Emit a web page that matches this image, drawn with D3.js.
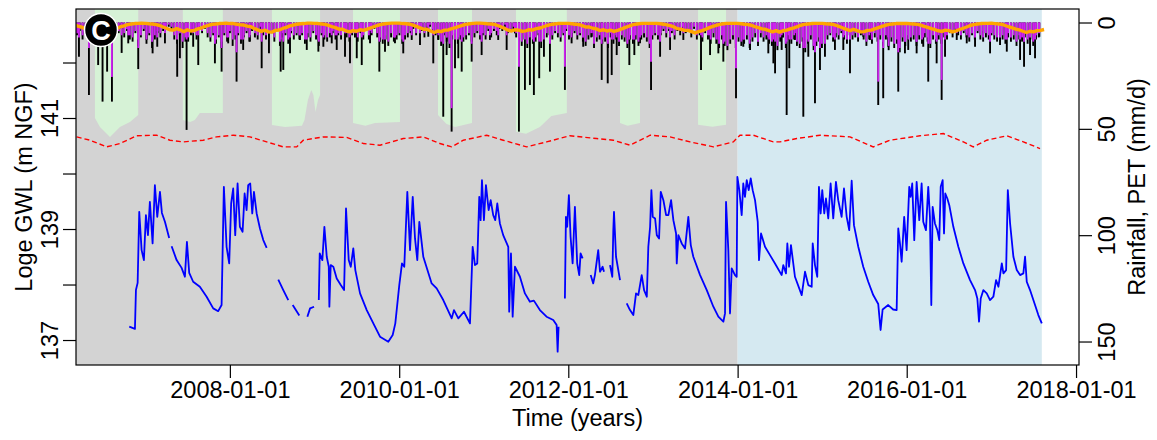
<!DOCTYPE html>
<html>
<head>
<meta charset="utf-8">
<script src="https://cdn.jsdelivr.net/npm/d3@7"></script>
<style>
  body { margin: 0; background: #fff; }
  svg { display: block; }
  text { font-family: "Liberation Sans", Arial, sans-serif; fill: #000; }
</style>
</head>
<body>
<svg id="chart" width="1157" height="440"></svg>
<script>
// ---- Data (time in decimal years) ----

// Groundwater level, m NGF (null = gap in record)
const gwlYr = [2006.810,2006.877,2006.889,2006.909,2006.928,2006.956,2006.983,2007.007,2007.031,2007.054,2007.086,2007.113,2007.141,2007.173,2007.196,2007.232,2007.282,2007.296,
  2007.311,2007.370,2007.429,2007.468,2007.492,2007.519,2007.566,2007.645,2007.725,2007.803,2007.862,2007.902,2007.929,2007.961,2007.992,2008.015,2008.039,2008.063,2008.091,2008.118,2008.150,2008.174,2008.197,2008.216,2008.240,2008.264,2008.284,2008.316,2008.355,2008.394,2008.434,2008.500,
  2008.571,2008.630,2008.689,2008.715,
  2008.741,2008.819,2008.860,
  2008.914,2008.946,2008.993,2009.020,
  2009.049,2009.060,2009.091,2009.115,2009.143,2009.167,2009.174,2009.190,2009.221,2009.261,2009.309,2009.348,2009.371,2009.403,2009.427,2009.457,2009.481,2009.537,2009.616,2009.694,2009.773,2009.871,2009.923,2009.954,2010.001,2010.033,2010.060,2010.096,2010.128,2010.160,2010.187,2010.214,2010.238,2010.285,2010.384,2010.443,2010.521,2010.621,2010.648,2010.699,2010.766,2010.837,2010.869,2010.896,2010.923,2010.947,2010.963,2010.979,2011.002,2011.026,2011.058,2011.082,2011.112,2011.136,2011.160,2011.191,2011.230,2011.290,2011.301,2011.322,2011.342,2011.369,2011.428,2011.487,2011.546,2011.593,2011.664,2011.743,2011.822,2011.862,2011.874,2011.885,2011.920,
  2011.960,2011.972,2011.987,2012.007,2012.027,2012.051,2012.078,2012.105,2012.129,2012.145,2012.169,2012.215,
  2012.264,2012.294,2012.314,2012.353,2012.374,2012.405,2012.421,2012.455,
  2012.492,2012.519,2012.531,2012.539,2012.563,2012.610,2012.650,
  2012.689,2012.728,2012.767,2012.799,2012.826,2012.866,2012.894,2012.926,2012.944,2012.965,2012.980,2012.996,2013.024,2013.044,2013.071,2013.091,2013.122,2013.154,2013.181,2013.213,2013.240,2013.272,2013.280,2013.299,2013.339,2013.378,2013.417,2013.446,2013.476,2013.556,2013.635,2013.713,2013.772,2013.831,2013.851,2013.863,2013.890,2013.910,2013.930,2013.969,2013.989,2013.997,2014.020,2014.048,2014.067,2014.087,2014.108,2014.131,2014.155,2014.178,2014.206,2014.238,2014.253,2014.277,2014.324,2014.383,2014.442,2014.521,2014.540,2014.572,2014.588,2014.608,2014.631,2014.678,2014.758,2014.797,2014.836,2014.876,2014.888,2014.915,2014.942,2014.962,2014.982,2015.001,2015.025,2015.045,2015.072,2015.100,2015.131,2015.163,2015.190,2015.230,2015.258,2015.290,2015.320,2015.349,2015.376,2015.427,2015.486,2015.545,2015.604,2015.663,2015.691,2015.715,2015.781,2015.840,2015.881,2015.900,2015.920,2015.940,2015.970,2015.999,2016.030,2016.046,2016.065,2016.089,2016.117,2016.148,2016.176,2016.195,2016.227,2016.254,2016.274,2016.290,2016.306,2016.333,2016.361,2016.384,2016.401,2016.424,2016.440,2016.455,2016.479,2016.502,2016.550,2016.609,2016.668,2016.747,2016.806,2016.833,2016.853,2016.873,2016.904,2016.944,2016.983,2017.022,2017.054,2017.082,2017.122,2017.141,2017.173,2017.193,2017.220,2017.259,2017.299,2017.338,2017.377,2017.397,2017.417,2017.456,2017.515,2017.554,2017.595];
const gwlM = [137.24,137.20,137.90,138.03,139.31,138.62,138.44,139.25,138.89,139.49,138.74,139.79,139.22,139.67,139.29,139.13,138.84,null,
  138.69,138.44,138.30,138.14,138.77,138.21,138.05,137.96,137.78,137.57,137.52,137.63,139.76,138.68,138.38,139.46,139.73,138.89,139.82,139.04,138.95,139.64,139.34,139.79,139.82,139.28,139.67,139.28,139.01,138.80,138.66,null,
  138.09,137.90,137.72,null,
  137.63,137.44,null,
  137.42,137.57,137.60,null,
  137.72,138.56,138.44,139.04,138.50,138.32,137.60,138.35,138.32,138.11,137.99,137.90,139.37,138.44,138.32,138.65,138.26,137.84,137.54,137.30,137.06,136.97,137.09,137.30,137.99,138.38,138.32,139.67,138.62,139.58,138.83,138.44,139.13,138.50,138.02,137.93,137.72,137.39,137.54,137.39,137.51,137.30,138.68,138.35,138.38,139.58,139.16,139.88,139.16,139.79,139.34,139.52,139.25,139.16,139.46,139.10,138.89,138.68,137.51,138.56,137.42,138.32,138.14,137.84,137.69,137.71,137.54,137.42,137.36,137.27,136.79,137.24,null,
  137.75,139.22,139.04,139.61,138.86,138.38,139.40,138.38,138.17,138.56,138.47,null,
  138.17,138.02,138.17,138.62,138.23,138.32,138.23,null,
  138.35,138.14,138.98,139.31,138.50,138.08,null,
  137.66,137.54,137.45,137.84,137.81,138.17,137.90,137.78,138.68,139.04,139.70,139.22,139.19,138.89,138.83,139.67,139.52,139.25,139.25,139.52,139.16,138.92,138.38,138.89,138.74,138.65,139.22,138.71,138.50,138.17,137.90,137.60,137.42,137.33,137.48,139.49,138.62,137.48,138.29,138.17,138.14,139.94,139.70,139.25,139.82,139.58,139.88,139.70,139.91,139.70,139.52,139.13,138.44,138.92,138.68,138.53,138.38,138.17,138.35,138.20,138.74,138.32,138.71,138.14,137.81,138.23,137.99,137.96,138.74,138.35,138.14,139.76,139.28,139.70,139.28,139.55,139.19,139.82,139.19,139.85,139.52,139.22,139.73,139.22,138.98,139.87,139.07,138.68,138.32,138.05,137.81,137.65,137.18,137.55,137.63,137.55,137.54,139.01,138.74,138.41,139.22,138.62,139.76,139.58,139.82,138.80,139.85,139.16,139.82,139.13,138.98,139.76,139.22,137.63,139.40,139.10,138.98,138.80,139.76,139.88,138.92,139.64,139.55,139.43,139.04,138.68,138.38,138.08,137.90,137.75,137.33,137.75,137.90,137.84,137.72,137.78,138.08,137.96,138.38,138.20,138.26,139.70,139.10,138.50,138.26,138.17,138.20,138.50,138.05,137.90,137.63,137.45,137.30];

// Largest daily rainfall events (black) with effective rainfall (magenta), mm/d
const rainYr = [2006.215,2006.333,2006.442,2006.494,2006.548,2006.605,2006.720,2006.798,2006.916,2007.015,2007.086,2007.141,2007.232,2007.377,2007.409,2007.488,2007.566,2007.626,2007.823,2007.902,2007.980,2008.079,2008.157,2008.236,2008.375,2008.461,2008.599,2008.630,2008.709,2008.827,2008.907,2009.044,2009.103,2009.202,2009.261,2009.359,2009.418,2009.498,2009.557,2009.655,2009.765,2009.832,2009.950,2010.048,2010.148,2010.246,2010.344,2010.403,2010.462,2010.521,2010.561,2010.620,2010.660,2010.699,2010.739,2010.857,2010.975,2011.073,2011.171,2011.271,2011.369,2011.416,2011.487,2011.546,2011.593,2011.656,2011.712,2011.783,2011.960,2012.039,2012.176,2012.294,2012.394,2012.465,2012.512,2012.571,2012.720,2012.779,2012.846,2012.976,2013.083,2013.201,2013.358,2013.567,2013.674,2013.772,2013.831,2013.981,2014.067,2014.147,2014.363,2014.423,2014.443,2014.521,2014.580,2014.611,2014.678,2014.777,2014.836,2014.915,2014.974,2015.033,2015.151,2015.250,2015.329,2015.486,2015.565,2015.663,2015.722,2015.781,2015.900,2015.979,2016.018,2016.117,2016.195,2016.254,2016.353,2016.412,2016.452,2016.590,2016.708,2016.806,2016.904,2016.983,2017.101,2017.181,2017.338,2017.385,2017.456,2017.515,2017.566];
const rainMm = [16.1,34.1,20.0,37.2,23.1,37.2,14.3,9.8,21.9,8.2,14.5,11.4,9.8,25.5,16.8,50.5,11.4,20.0,19.2,23.1,9.8,27.8,12.9,9.0,21.5,14.5,23.1,22.3,14.5,8.2,12.9,13.7,11.4,9.8,12.9,16.1,19.2,16.8,20.0,9.8,23.1,13.7,9.8,14.5,8.2,10.6,6.7,19.2,8.2,44.3,15.3,51.3,21.5,16.8,23.1,18.4,15.3,8.2,8.2,12.9,5.1,51.3,31.7,29.4,34.1,26.2,16.1,23.1,31.7,9.8,11.4,6.7,27.0,28.6,24.7,15.3,20.0,15.3,9.8,31.7,16.1,12.9,8.2,22.3,15.3,14.5,18.4,35.6,11.4,12.9,14.5,19.2,23.9,12.9,43.5,21.5,8.2,44.3,16.1,38.0,22.3,16.1,12.9,12.9,23.9,6.7,8.2,38.8,35.6,11.4,32.5,14.5,12.9,14.5,11.4,27.8,19.2,36.4,16.1,8.2,9.8,11.4,5.1,14.5,10.6,13.7,17.6,20.8,15.3,16.8,6.7];
const effMm = [7,12,8,10,9,25.6,6,6,12,6,8,7,5,6,5,8,5,6,10,12,7,14,8,6,9,5,8,9,7,6,8,8,7,6,6,5,6,5,7,4,9,8,7,9,6,5,4,6,4,10,7,40.3,8,7,9,10,9,6,6,6,4,20.8,8,7,9,9,8,10,20.8,7,7,5,10,9,8,7,8,8,7,18.4,9,7,5,6,6,8,10,21.5,8,8,7,8,9,6,9,8,5,12,9,14,12,10,8,7,8,4,5,27.8,12,7,14,9,8,9,7,10,9,27.0,8,5,6,7,4,9,7,8,8,9,7,8,5];

// Typical rainfall in each 12-day window from 12 March 2006 (black) and its effective part (magenta), mm/d
const bandStart = [2006, 2, 12];
const bandStepDays = 12;
const bandMm = [
  6,4,8,5,3,7,9,4,6,5,  4,2,6,3,1,5,3,7,4,8,  9,5,11,7,4,10,6,12,8,5,  7,4,2,2,3,8,10,6,12,9,
  9,6,4,8,3,5,3,7,9,6,  10,7,12,6,9,5,11,8,6,10,  7,5,9,4,7,8,3,6,8,5,  5,9,4,11,7,6,10,5,8,6,
  8,6,10,7,9,5,8,11,6,8,  9,7,5,8,6,8,4,7,9,6,  7,9,5,8,4,8,6,3,7,9,  10,8,11,7,9,8,6,10,8,7,
  5,3,6,3,4,7,3,2,4,6,  8,11,6,9,12,8,7,10,8,9,  8,6,9,7,5,8,6,8,4,7,  4,6,3,4,2,5,4,3,7,9,
  11,8,12,7,10,9,6,12,8,7,  6,8,5,7,9,6,4,8,7,5,  8,6,9,11,8,7,12,9,8,10,  9,12,7,10,8,11,8,9,12,8,
  10,8,11,8,7,9,12,8,6,8,  6,4,7,4,5,8,4,6,3,5,  4,7,3,8,6,9,5,8,10,7,  10,12,8,11,13,10,8,12,9,11,
  10,8,12,9,7,11,7,9,8,10,  11,8,13,9,7,12,8,10,8,11,  12,9,14,10,8,13,11,9,12,10,  8,6,9,7,8,5,8,10,6,8,
  7,9,6,8,11,8,10,7,9,8,  11,8,13,9,12,10,14,9,11,8,  9,8,11,8,10,7,9,12,8,10,  8,10,7,8,5,7,4,6,8,5,
  7,9,6,8,5,8,9,7,8,6,  8,9,6,8,10,7,9,8,11,8,  9,7,10,8,11,8,7];
const bandEffMm = [
  5,3,6,4,2,5,6,3,5,4,  3,1,5,2,1,4,2,5,3,6,  7,4,8,6,3,8,5,9,6,4,  5,3,2,1,2,6,8,5,9,7,
  7,4,3,6,2,4,2,5,7,5,  8,6,9,5,7,4,8,6,5,8,  6,4,7,3,5,6,2,4,6,4,  4,7,3,9,5,5,8,4,6,5,
  6,5,8,5,7,4,6,9,5,6,  7,5,4,6,5,6,3,5,7,5,  5,7,4,6,3,6,5,2,5,7,  8,6,9,5,7,6,5,8,6,5,
  4,2,5,2,3,5,2,1,3,5,  6,9,5,7,10,6,5,8,6,7,  6,5,7,5,4,6,5,6,3,5,  3,4,2,3,1,4,3,2,5,7,
  9,6,10,5,8,7,5,9,6,5,  5,6,4,5,7,5,3,6,5,4,  6,5,7,9,6,5,10,7,6,8,  7,10,5,8,6,9,6,7,10,6,
  8,6,9,6,5,7,10,6,5,6,  5,3,5,3,4,6,3,4,2,4,  3,5,2,6,5,7,4,6,8,5,  8,10,6,9,11,8,6,10,7,9,
  8,6,10,7,5,9,5,7,6,8,  9,6,11,7,5,10,6,8,6,9,  10,7,12,8,6,11,9,7,10,8,  6,5,7,5,6,4,6,8,5,6,
  5,7,5,6,9,6,8,5,7,6,  9,6,11,7,10,8,12,7,9,6,  7,6,9,6,8,5,7,10,6,8,  6,8,5,6,4,5,3,4,6,4,
  5,7,5,6,4,6,7,5,6,5,  6,7,5,6,8,5,7,6,9,6,  7,5,8,6,9,6,5];

// Half-monthly potential evapotranspiration (1st and 16th), mm/d, from March 2006
const petStart = [2006, 2];
const petMm = [
  1.1,1.7, 2.2,2.9, 3.0,3.9, 4.0,4.7, 5.2,4.5, 3.8,3.1, 2.8,2.0, 1.6,1.0, 0.7,0.5, 0.4,0.3,
  0.4,0.6, 0.7,1.0, 1.3,2.0, 2.7,3.4, 3.6,2.9, 3.5,4.3, 3.4,4.0, 3.7,3.0, 2.5,1.8, 1.3,0.9, 0.7,0.5, 0.4,0.3,
  0.5,0.5, 0.8,1.1, 1.2,1.7, 2.0,2.9, 3.5,4.2, 3.6,4.4, 4.5,3.7, 3.5,2.8, 2.3,1.6, 1.2,0.8, 0.6,0.5, 0.3,0.3,
  0.4,0.5, 0.7,0.9, 1.3,1.9, 2.4,3.1, 3.2,3.9, 4.4,3.8, 4.1,3.4, 3.7,3.1, 2.5,1.9, 1.3,0.9, 0.6,0.4, 0.3,0.3,
  0.3,0.5, 0.6,0.8, 1.2,1.8, 2.5,3.2, 3.2,4.0, 4.7,4.0, 4.3,3.6, 3.5,2.9, 2.4,1.8, 1.3,0.9, 0.6,0.4, 0.3,0.3,
  0.4,0.6, 0.7,0.9, 1.4,2.0, 2.8,3.6, 4.0,3.4, 3.6,4.2, 3.9,3.4, 3.5,2.9, 2.6,2.0, 1.4,1.0, 0.7,0.5, 0.4,0.4,
  0.4,0.6, 0.8,1.0, 1.5,2.1, 2.1,2.7, 3.0,3.8, 3.4,4.0, 3.6,4.2, 3.7,3.1, 2.4,1.8, 1.2,0.8, 0.6,0.4, 0.4,0.4,
  0.4,0.4, 0.6,0.8, 1.1,1.5, 2.1,2.9, 3.1,3.7, 3.7,4.3, 4.9,4.3, 3.8,3.2, 2.4,1.8, 1.3,0.9, 0.6,0.4, 0.4,0.4,
  0.4,0.6, 0.8,1.0, 1.3,1.9, 2.4,3.0, 3.2,3.8, 4.4,3.8, 4.5,3.9, 3.6,3.0, 2.5,1.9, 1.3,0.9, 0.7,0.5, 0.4,0.4,
  0.4,0.6, 0.7,0.9, 1.3,1.9, 2.6,3.2, 3.8,3.2, 3.8,4.4, 4.3,3.7, 3.6,3.0, 2.4,1.8, 1.3,0.9, 0.7,0.5, 0.5,0.5,
  0.4,0.6, 0.7,0.9, 1.2,1.8, 2.3,2.9, 3.3,3.9, 4.2,3.6, 3.8,4.4, 3.9,3.3, 2.7,2.1, 1.4,1.0, 0.7,0.5, 0.4,0.4,
  0.3,0.5, 0.7,0.9, 1.4,2.0, 2.5,3.1, 3.5,4.1, 4.7,4.1, 4.4,3.8, 3.7,3.3];

// Smoothed reference level (red dashed), m NGF
const refYr = [2006.188,2006.345,2006.543,2006.700,2006.897,2007.134,2007.291,2007.448,2007.684,2007.843,2008.039,2008.236,2008.434,2008.630,2008.788,2008.866,2009.103,2009.379,2009.576,2009.773,2010.048,2010.285,2010.482,2010.621,2010.758,2011.034,2011.230,2011.507,2011.743,2012.019,2012.334,2012.531,2012.728,2012.965,2013.201,2013.437,2013.713,2013.949,2014.028,2014.186,2014.422,2014.501,2014.699,2014.974,2015.329,2015.604,2015.801,2016.156,2016.431,2016.668,2016.786,2016.944,2017.181,2017.377,2017.574];
const refM = [140.66,140.60,140.48,140.54,140.68,140.69,140.60,140.57,140.60,140.66,140.69,140.66,140.57,140.48,140.48,140.60,140.66,140.65,140.54,140.51,140.63,140.66,140.54,140.48,140.60,140.69,140.60,140.48,140.57,140.68,140.63,140.60,140.51,140.69,140.66,140.57,140.48,140.57,140.69,140.69,140.57,140.57,140.63,140.69,140.66,140.48,140.60,140.68,140.72,140.57,140.48,140.60,140.68,140.57,140.45];

// Dry-season shading: outline depth in mm/d below the top (null separates periods)
const dryYr = [2006.404,2006.463,2006.582,2006.700,2006.818,2006.916,null,
  2007.444,2007.530,2007.586,2007.645,2007.917,null,
  2008.496,2008.650,2008.850,2008.880,2008.920,2008.960,2008.985,2009.010,2009.040,2009.064,null,
  2009.454,2009.600,2009.714,2010.009,null,
  2010.459,2010.560,2010.660,2010.861,null,
  2011.381,2011.500,2011.664,2011.800,2011.983,null,
  2012.610,2012.700,2012.846,null,
  2013.532,2013.700,2013.863];
const dryMm = [44.9,49.1,53.8,49.1,46.8,43.5,null,
  45.8,46.8,45.8,42.5,42.5,null,
  48.2,49.1,48.6,45.8,36.4,31.7,34.1,42.1,36.4,34.1,null,
  47.2,48.6,47.2,46.8,null,
  43.5,47.7,49.1,47.2,null,
  51.4,52.3,49.1,44.0,42.5,null,
  47.2,48.6,47.2,null,
  48.1,49.0,48.1];

// Calibration / validation periods
const periodStart = [2006.18, 2014.0];
const periodEnd   = [2014.0, 2017.595];
const periodFill  = ["#d3d3d3", "#d5e9f1"];

// Axis ticks and labels
const xTickYears   = [2008, 2010, 2012, 2014, 2016, 2018];
const gwlTicks     = [137, 138, 139, 140, 141, 142];
const gwlTickText  = ["137", "", "139", "", "141", ""];
const rainTicks    = [0, 50, 100, 150];
const xDomainYr    = [2006.18, 2018.035];
const gwlDomain    = [136.55, 142.964];
const rainDomain   = [-6.35, 161.04];

// ---- Helpers ----
function toDate(yr) {
  const y = Math.floor(yr);
  const s = Date.UTC(y, 0, 1), e = Date.UTC(y + 1, 0, 1);
  return new Date(s + (yr - y) * (e - s));
}
function splitNull(xs, ys) {
  const out = []; let cur = [];
  xs.forEach((v, i) => {
    if (v === null || ys[i] === null) { if (cur.length) out.push(cur); cur = []; }
    else cur.push([v, ys[i]]);
  });
  if (cur.length) out.push(cur);
  return out;
}

// ---- Layout ----
const L = 76, R = 1079, T = 9, B = 365;
const svg = d3.select("#chart");

const x = d3.scaleTime().domain(xDomainYr.map(toDate)).range([L, R]);
const yG = d3.scaleLinear().domain(gwlDomain).range([B, T]);
const yR = d3.scaleLinear().domain(rainDomain).range([T, B]);

const plot = svg.append("g");
plot.append("clipPath").attr("id", "clip")
  .append("rect").attr("x", L).attr("y", T).attr("width", R - L).attr("height", B - T);
const g = plot.append("g").attr("clip-path", "url(#clip)");

// Period backgrounds
g.selectAll("rect.period").data(periodStart).join("rect")
  .attr("class", "period")
  .attr("x", d => x(toDate(d)))
  .attr("y", T)
  .attr("width", (d, i) => x(toDate(periodEnd[i])) - x(toDate(d)))
  .attr("height", B - T)
  .attr("fill", (d, i) => periodFill[i]);

// Dry-season shading from the top of the panel
const dryArea = d3.area()
  .x(d => x(toDate(d[0])))
  .y0(T)
  .y1(d => yR(d[1]));
g.selectAll("path.dry").data(splitNull(dryYr, dryMm)).join("path")
  .attr("class", "dry")
  .attr("d", dryArea)
  .attr("fill", "#d6f2d6");

// Reference level (red dashed)
g.append("path")
  .datum(refYr.map((d, i) => [d, refM[i]]))
  .attr("d", d3.line().x(d => x(toDate(d[0]))).y(d => yG(d[1])))
  .attr("fill", "none").attr("stroke", "#ff0000").attr("stroke-width", 1.4)
  .attr("stroke-dasharray", "5,3");

// Groundwater level
g.append("path")
  .datum(gwlYr.map((d, i) => [d, gwlM[i]]))
  .attr("d", d3.line().defined(d => d[1] !== null).x(d => x(toDate(d[0]))).y(d => yG(d[1])))
  .attr("fill", "none").attr("stroke", "#0000ff").attr("stroke-width", 1.8)
  .attr("stroke-linejoin", "round");

// Rainfall: combine the 12-day band and the largest events
const bandDates = bandMm.map((d, i) =>
  new Date(Date.UTC(bandStart[0], bandStart[1], bandStart[2] + i * bandStepDays)));
const rainBars = bandMm.map((d, i) => ({ t: bandDates[i], r: d, e: bandEffMm[i] }))
  .concat(rainYr.map((d, i) => ({ t: toDate(d), r: rainMm[i], e: effMm[i] })));

g.selectAll("line.rain").data(rainBars).join("line")
  .attr("class", "rain")
  .attr("x1", d => x(d.t)).attr("x2", d => x(d.t))
  .attr("y1", yR(0)).attr("y2", d => yR(d.r))
  .attr("stroke", "#000").attr("stroke-width", 1.9);
g.selectAll("line.eff").data(rainBars).join("line")
  .attr("class", "eff")
  .attr("x1", d => x(d.t)).attr("x2", d => x(d.t))
  .attr("y1", yR(0)).attr("y2", d => yR(d.e))
  .attr("stroke", "#cc22ee").attr("stroke-width", 1.9);

// PET (orange), sampled on the 1st and 16th of each month
const petDates = petMm.map((d, i) =>
  new Date(Date.UTC(petStart[0], petStart[1] + Math.floor(i / 2), i % 2 ? 16 : 1)));
g.append("path")
  .datum(petMm.map((d, i) => [petDates[i], d]))
  .attr("d", d3.line().x(d => x(d[0])).y(d => yR(d[1])))
  .attr("fill", "none").attr("stroke", "#ffa500").attr("stroke-width", 3.4)
  .attr("stroke-linejoin", "round");

// Frame
svg.append("rect").attr("x", L).attr("y", T).attr("width", R - L).attr("height", B - T)
  .attr("fill", "none").attr("stroke", "#000").attr("stroke-width", 1.2);

// Panel badge
svg.append("circle").attr("cx", 101).attr("cy", 30).attr("r", 16.5)
  .attr("fill", "#000").attr("stroke", "#fff").attr("stroke-width", 1.5);
svg.append("text").attr("x", 101).attr("y", 39.5).attr("text-anchor", "middle")
  .style("font-size", "27px").style("font-weight", "bold").style("fill", "#fff").text("C");

// Axes
const fs = "23.5px";
const xAxis = svg.append("g").attr("transform", `translate(0,${B})`)
  .call(d3.axisBottom(x).tickValues(xTickYears.map(y => new Date(Date.UTC(y, 0, 1))))
    .tickFormat(d3.utcFormat("%Y-%m-%d")).tickSize(13).tickPadding(3));
xAxis.select(".domain").remove();
xAxis.selectAll("text").style("font-size", fs).attr("dy", "0.71em");

const yAxisL = svg.append("g").attr("transform", `translate(${L},0)`)
  .call(d3.axisLeft(yG).tickValues(gwlTicks).tickFormat((d, i) => gwlTickText[i]).tickSize(13));
yAxisL.select(".domain").remove();
yAxisL.selectAll("text").attr("x", null).attr("dy", null)
  .attr("transform", "translate(-18,0) rotate(-90)").attr("text-anchor", "middle").style("font-size", fs);

const yAxisR = svg.append("g").attr("transform", `translate(${R},0)`)
  .call(d3.axisRight(yR).tickValues(rainTicks).tickSize(13));
yAxisR.select(".domain").remove();
yAxisR.selectAll("text").attr("x", null).attr("dy", null)
  .attr("transform", "translate(36,0) rotate(-90)").attr("text-anchor", "middle").style("font-size", fs);

svg.selectAll(".tick line").attr("stroke", "#000").attr("stroke-width", 1.2);

// Axis titles
svg.append("text").attr("transform", `translate(32,${(T + B) / 2}) rotate(-90)`)
  .attr("text-anchor", "middle").style("font-size", fs).text("Loge GWL (m NGF)");
svg.append("text").attr("transform", `translate(1145,${(T + B) / 2}) rotate(-90)`)
  .attr("text-anchor", "middle").style("font-size", fs).text("Rainfall, PET (mm/d)");
svg.append("text").attr("x", (L + R) / 2).attr("y", 426)
  .attr("text-anchor", "middle").style("font-size", fs).text("Time (years)");
</script>
</body>
</html>
